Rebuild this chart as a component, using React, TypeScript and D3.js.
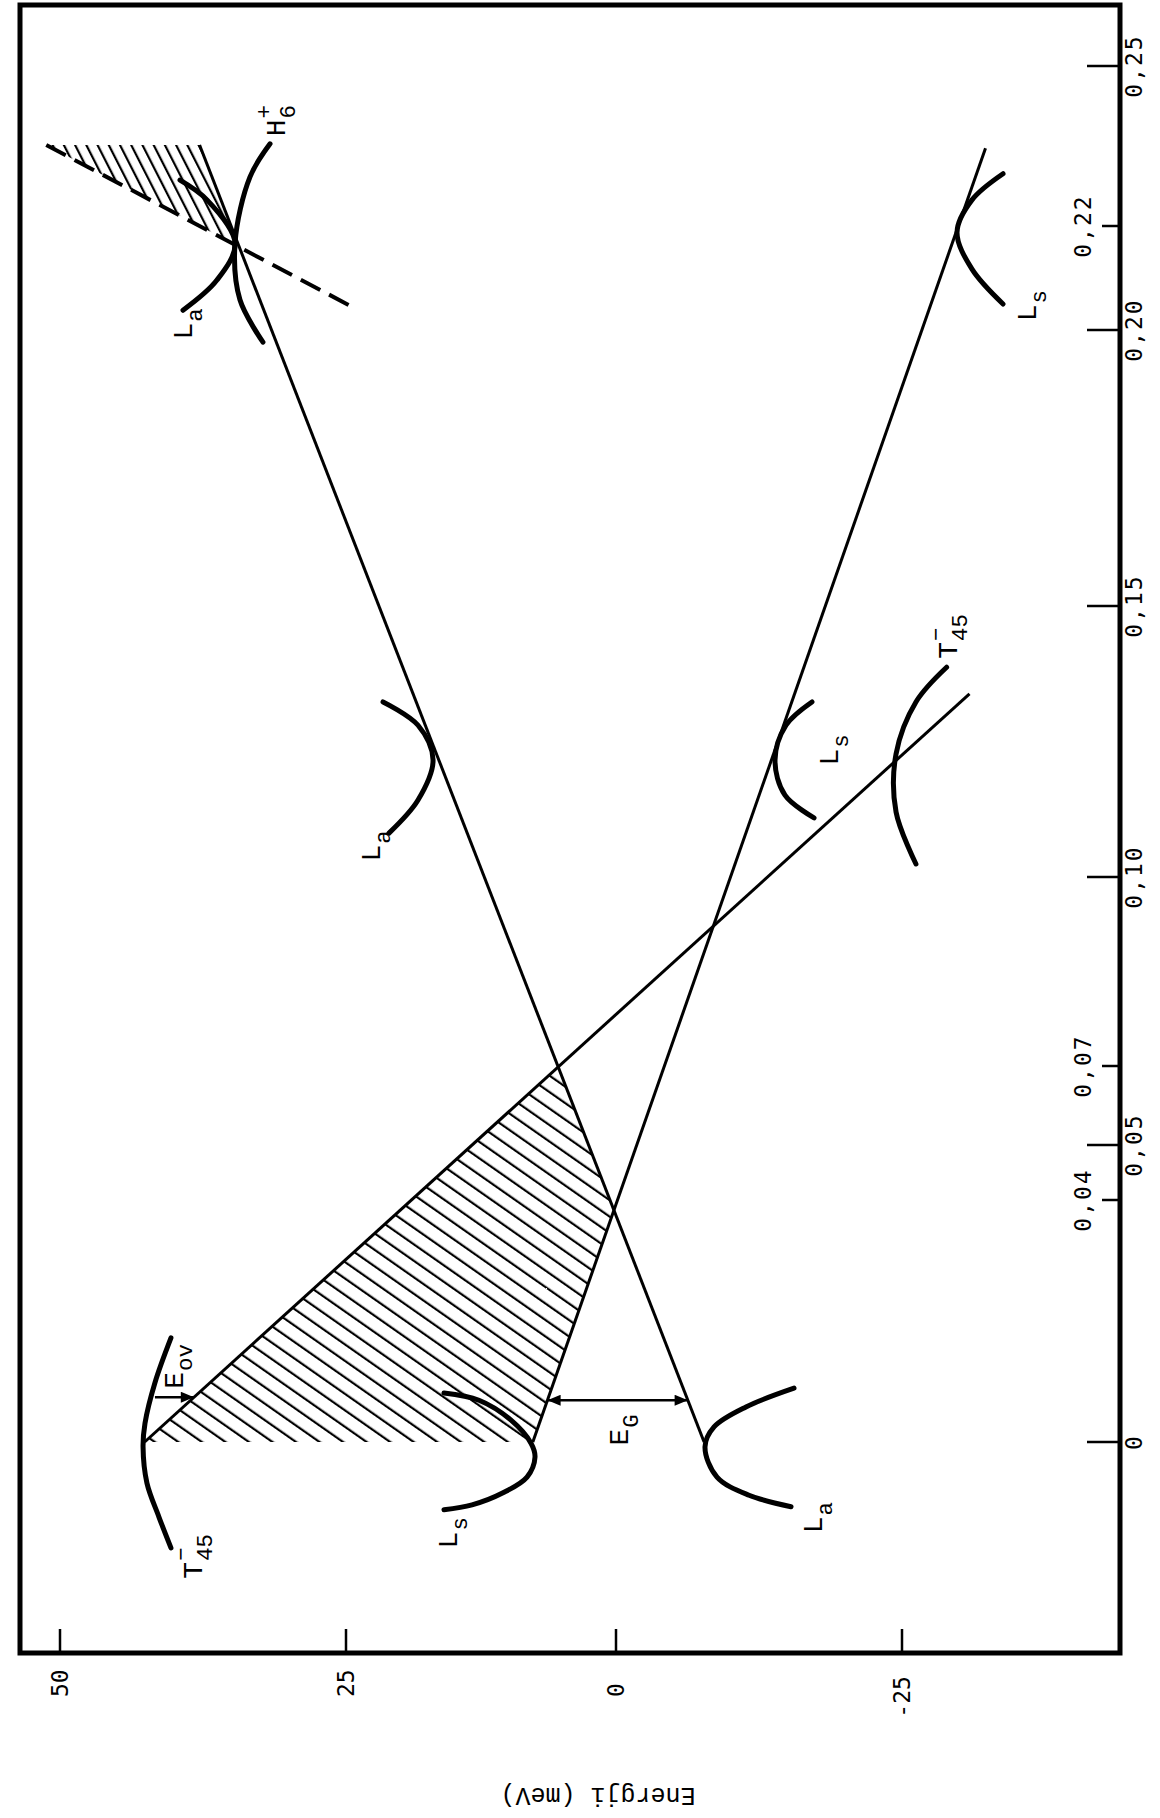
import React from "react";
import * as d3 from "d3";

type Pt = [number, number]; // [composition x, energy in meV]

// composition axis (drawn vertically, right side)
const compTicks = [0, 0.04, 0.05, 0.07, 0.1, 0.15, 0.2, 0.22, 0.25];
const compTickLabels = ["0", "0,04", "0,05", "0,07", "0,10", "0,15", "0,20", "0,22", "0,25"];
const compInnerTicks = [0.04, 0.07, 0.22];

// energy axis (drawn horizontally, bottom)
const energyTicks = [50, 25, 0, -25];
const energyTickLabels = ["50", "25", "0", "-25"];

// straight band edges
const laEdge: Pt[] = [[0, -7.7], [0.2352, 37.8]];
const lsEdge: Pt[] = [[0, 7.7], [0.2346, -32.3]];
const t45Edge: Pt[] = [[0, 42.6], [0.1338, -30.9]];
const h6Edge: Pt[] = [[0.2352, 51.2], [0.2042, 24.2]];

// band curvature sketches
const laLow: Pt[] = [[0.0089, -15.56], [0.0058, -11.36], [0.0025, -8.57], [-0.0008, -7.78], [-0.0058, -8.83], [-0.0088, -11.63], [-0.0107, -15.3]];
const lsLow: Pt[] = [[0.0081, 15.93], [0.0069, 12.69], [0.0036, 9.72], [-0.0002, 7.87], [-0.0025, 7.5], [-0.0058, 8.24], [-0.0084, 10.46], [-0.0104, 13.33], [-0.0112, 15.93]];
const t45Low: Pt[] = [[0.0172, 40.3], [0.0098, 41.7], [0.0031, 42.57], [-0.0008, 42.74], [-0.0068, 42.4], [-0.0124, 41.35], [-0.0175, 40.3]];
const laMid: Pt[] = [[0.1323, 21.57], [0.128, 18.33], [0.1216, 16.94], [0.1142, 18.33], [0.1081, 21.02]];
const lsMid: Pt[] = [[0.1323, -17.13], [0.128, -14.86], [0.1216, -13.9], [0.1151, -14.77], [0.1109, -17.31]];
const t45Mid: Pt[] = [[0.1387, -28.9], [0.1323, -26.22], [0.1227, -24.48], [0.112, -24.48], [0.1024, -26.22]];
const lsTop: Pt[] = [[0.2298, -33.83], [0.2249, -31.12], [0.2188, -29.81], [0.2117, -31.12], [0.205, -33.83]];
const laTop: Pt[] = [[0.2286, 39.51], [0.2249, 37.15], [0.2167, 34.7], [0.2096, 36.28], [0.2038, 39.25]];
const h6Top: Pt[] = [[0.2354, 31.64], [0.2292, 33.39], [0.2167, 34.7], [0.2058, 34.27], [0.1978, 32.26]];

// gap / overlap markers
const gapComp = 0.0069;
const overlapComp = 0.0074;
const overlapStartEnergy = 41.7;

type Label = { main: string; sup?: string; sub?: string; at: Pt };
const bandLabels: Label[] = [
  { main: "L", sub: "a", at: [0.1998, 39.25] },
  { main: "H", sup: "+", sub: "6", at: [0.2384, 31.12] },
  { main: "L", sub: "s", at: [0.2033, -35.93] },
  { main: "L", sub: "a", at: [0.1044, 22.69] },
  { main: "L", sub: "s", at: [0.1221, -18.62] },
  { main: "T", sup: "\u2212", sub: "45", at: [0.1418, -29.0] },
  { main: "T", sup: "\u2212", sub: "45", at: [-0.0212, 38.37] },
  { main: "L", sub: "s", at: [-0.0162, 15.56] },
  { main: "L", sub: "a", at: [-0.0137, -17.22] },
  { main: "E", sub: "G", at: [0.0008, -0.26] },
  { main: "E", sub: "ov", at: [0.0102, 40.1] },
];

const axisTitle = "Energji (meV)";

const W = 1160;
const H = 1818;
const frame = { left: 20, right: 1120, top: 5, bottom: 1653 };

function intersect(a: [number, number][], b: [number, number][]): [number, number] {
  const [[x1, y1], [x2, y2]] = a;
  const [[x3, y3], [x4, y4]] = b;
  const d = (x1 - x2) * (y3 - y4) - (y1 - y2) * (x3 - x4);
  const t = ((x1 - x3) * (y3 - y4) - (y1 - y3) * (x3 - x4)) / d;
  return [x1 + t * (x2 - x1), y1 + t * (y2 - y1)];
}

function atRow(seg: [number, number][], y: number): number {
  const [[x1, y1], [x2, y2]] = seg;
  return x1 + ((y - y1) / (y2 - y1)) * (x2 - x1);
}

function BandLabel({ x, y, l, size }: { x: number; y: number; l: Label; size: number }) {
  const adv = 0.6 * size;
  const x0 = -adv / 2;
  const b = 0.33 * size;
  const small = 0.8 * size;
  const mainW = l.main.length * adv;
  return (
    <text
      transform={`translate(${x},${y}) rotate(-90)`}
      fontFamily="'Liberation Mono', 'DejaVu Sans Mono', monospace"
      fill="#000"
    >
      <tspan x={x0} y={b} fontSize={size}>{l.main}</tspan>
      {l.sup && (
        <tspan x={x0 + mainW + 1} y={b - 0.5 * size} fontSize={small}>{l.sup}</tspan>
      )}
      {l.sub && (
        <tspan x={x0 + mainW + 1} y={b + 0.34 * size} fontSize={small}>{l.sub}</tspan>
      )}
    </text>
  );
}

export default function App() {
  const yC = d3
    .scaleLinear()
    .domain(compTicks)
    .range([1442, 1200, 1145, 1066, 877, 606, 330, 226, 66]);
  const xE = d3.scaleLinear().domain(energyTicks).range([60, 346, 616, 902]);

  const P = (d: Pt): [number, number] => [xE(d[1]), yC(d[0])];
  const seg = (e: Pt[]) => e.map(P) as [number, number][];

  const la = seg(laEdge);
  const ls = seg(lsEdge);
  const t45 = seg(t45Edge);
  const h6 = seg(h6Edge);

  const arc = d3
    .line<Pt>()
    .x((d) => xE(d[1]))
    .y((d) => yC(d[0]))
    .curve(d3.curveCatmullRom.alpha(0.5));

  // hatched regions
  const caPt = intersect(t45, la);
  const abPt = intersect(la, ls);
  const lowerRegion = [t45[0], caPt, abPt, ls[0]];
  const topCross = intersect(la, h6);
  const upperRegion = [h6[0], la[1], topCross];
  const poly = (pts: [number, number][]) => "M" + pts.map((p) => p.join(",")).join("L") + "Z";

  // arrows
  const gapY = yC(gapComp);
  const gapX1 = atRow(ls, gapY);
  const gapX2 = atRow(la, gapY);
  const ovY = yC(overlapComp);
  const ovX1 = xE(overlapStartEnergy);
  const ovX2 = atRow(t45, ovY);

  const tickFont = "'DejaVu Sans Mono', monospace";
  const tickSize = 23;
  const digitHalf = 0.36 * tickSize;

  return (
    <svg
      width={W}
      height={H}
      viewBox={`0 0 ${W} ${H}`}
      style={{ position: "absolute", left: 0, top: 0, background: "#fff" }}
    >
      <defs>
        <pattern id="hatchLow" patternUnits="userSpaceOnUse" width={13.5} height={13.5} patternTransform="rotate(-55)">
          <line x1={1} y1={0} x2={1} y2={13.5} stroke="#000" strokeWidth={2.4} />
        </pattern>
        <pattern id="hatchTop" patternUnits="userSpaceOnUse" width={10} height={10} patternTransform="rotate(-27)">
          <line x1={1} y1={0} x2={1} y2={10} stroke="#000" strokeWidth={2.4} />
        </pattern>
        <marker id="head" viewBox="0 0 12 10" refX={12} refY={5} markerWidth={14} markerHeight={11} markerUnits="userSpaceOnUse" orient="auto-start-reverse">
          <path d="M0,0L12,5L0,10Z" fill="#000" />
        </marker>
      </defs>

      <rect x={0} y={0} width={W} height={H} fill="#fff" />

      {/* hatched overlap regions */}
      <path d={poly(lowerRegion)} fill="url(#hatchLow)" />
      <path d={poly(upperRegion)} fill="url(#hatchTop)" />

      {/* band edges */}
      <g stroke="#000" fill="none" strokeWidth={3}>
        <path d={d3.line()(la) || ""} />
        <path d={d3.line()(ls) || ""} />
        <path d={d3.line()(t45) || ""} />
        <path d={d3.line()(h6) || ""} strokeWidth={4} strokeDasharray="22 10" />
      </g>

      {/* band curvature */}
      <g stroke="#000" fill="none" strokeWidth={5} strokeLinecap="round">
        {[laLow, lsLow, t45Low, laMid, lsMid, t45Mid, lsTop, laTop, h6Top].map((a, i) => (
          <path key={i} d={arc(a) || ""} />
        ))}
      </g>

      {/* E_G and E_ov arrows */}
      <line x1={gapX1} y1={gapY} x2={gapX2} y2={gapY} stroke="#000" strokeWidth={2.5} markerStart="url(#head)" markerEnd="url(#head)" />
      <line x1={ovX1} y1={ovY} x2={ovX2} y2={ovY} stroke="#000" strokeWidth={2.5} markerEnd="url(#head)" />

      {bandLabels.map((l, i) => {
        const [x, y] = P(l.at);
        return <BandLabel key={i} x={x} y={y} l={l} size={28} />;
      })}

      {/* frame */}
      <rect
        x={frame.left}
        y={frame.top}
        width={frame.right - frame.left}
        height={frame.bottom - frame.top}
        fill="none"
        stroke="#000"
        strokeWidth={5}
      />

      {/* composition ticks */}
      {compTicks.map((c, i) => {
        const inner = compInnerTicks.includes(c);
        const y = yC(c);
        const len = inner ? 18 : 33;
        const lx = inner ? frame.right - 37 : frame.right + 14;
        return (
          <g key={c}>
            <line x1={frame.right - len} y1={y} x2={frame.right} y2={y} stroke="#000" strokeWidth={2.5} />
            <text
              transform={`translate(${lx},${y}) rotate(-90)`}
              y={digitHalf}
              textAnchor="middle"
              fontFamily={tickFont}
              fontSize={tickSize}
              letterSpacing={2}
            >
              {compTickLabels[i]}
            </text>
          </g>
        );
      })}

      {/* energy ticks */}
      {energyTicks.map((e, i) => {
        const x = xE(e);
        return (
          <g key={e}>
            <line x1={x} y1={frame.bottom} x2={x} y2={frame.bottom - 24} stroke="#000" strokeWidth={2.5} />
            <text
              transform={`translate(${x},${frame.bottom + 44}) rotate(-90)`}
              x={e < 0 ? -0.9 * tickSize : 0}
              y={digitHalf}
              textAnchor="start"
              fontFamily={tickFont}
              fontSize={tickSize}
            >
              {energyTickLabels[i]}
            </text>
          </g>
        );
      })}

      <text
        transform={`translate(598,1796) rotate(180)`}
        textAnchor="middle"
        fontFamily="'Liberation Mono', monospace"
        fontSize={25}
        y={8}
      >
        {axisTitle}
      </text>
    </svg>
  );
}
